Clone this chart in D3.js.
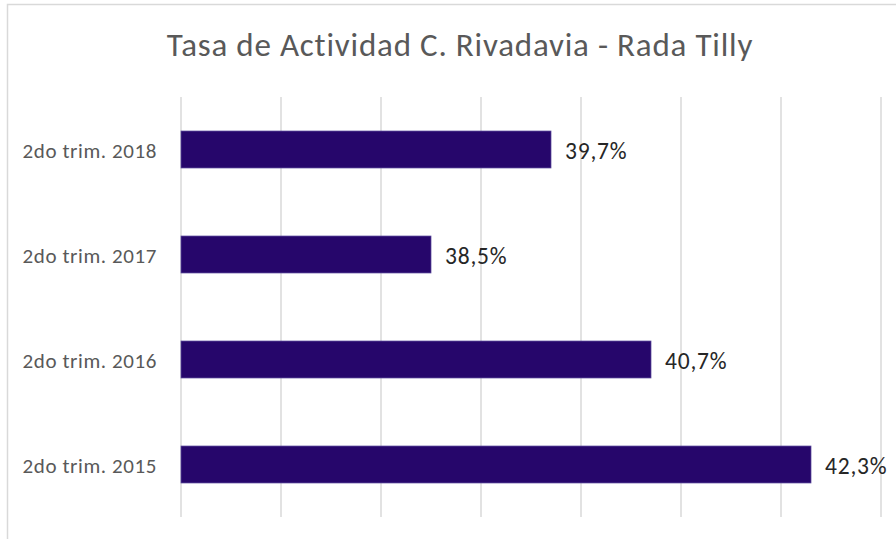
<!DOCTYPE html>
<html>
<head>
<meta charset="utf-8">
<script src="https://cdn.jsdelivr.net/npm/d3@7"></script>
<style>
  body { margin: 0; background: #fff; }
  svg { display: block; }
</style>
</head>
<body>
<div class="container"></div>
<script>
// datos
var categories = ["2do trim. 2018", "2do trim. 2017", "2do trim. 2016", "2do trim. 2015"];
var values = [39.7, 38.5, 40.7, 42.3];
var valueLabels = ["39,7%", "38,5%", "40,7%", "42,3%"];
var xTicks = [36, 37, 38, 39, 40, 41, 42, 43];
var title = "Tasa de Actividad C. Rivadavia - Rada Tilly";

var width = 896, height = 539;
var font = "Calibri, Carlito, Lato, sans-serif";

var svg = d3.select(".container")
    .append("svg")
    .attr("width", width)
    .attr("height", height);

// chart border (right and bottom edges fall outside the picture)
svg.append("rect")
    .attr("x", 7.5)
    .attr("y", 4.5)
    .attr("width", 920)
    .attr("height", 560)
    .style("fill", "#fff")
    .style("stroke", "#d9d9d9")
    .style("stroke-width", 1.5);

var x = d3.scaleLinear().domain([36, 43]).range([181, 881]);
var y = d3.scaleBand().domain(categories).range([97, 517])
    .paddingInner(0.648).paddingOuter(0.324);

// gridlines
svg.selectAll("line.grid")
    .data(xTicks)
    .enter().append("line")
    .attr("class", "grid")
    .attr("x1", function(d) { return x(d); })
    .attr("x2", function(d) { return x(d); })
    .attr("y1", 97)
    .attr("y2", 517)
    .style("stroke", "#d9d9d9")
    .style("stroke-width", 1.5);

// bars
svg.selectAll("rect.bar")
    .data(values)
    .enter().append("rect")
    .attr("class", "bar")
    .attr("x", x(36))
    .attr("y", function(d, i) { return y(categories[i]); })
    .attr("width", function(d) { return x(d) - x(36); })
    .attr("height", y.bandwidth())
    .style("fill", "#26066b")
    .style("stroke", "#5b4a9c")
    .style("stroke-width", 0.75);

// category labels
svg.selectAll("text.cat")
    .data(categories)
    .enter().append("text")
    .attr("class", "cat")
    .attr("x", 157)
    .attr("y", function(d) { return y(d) + y.bandwidth() / 2 + 8; })
    .attr("text-anchor", "end")
    .style("font-family", font)
    .style("font-size", "21px")
    .style("letter-spacing", "0.6px")
    .style("fill", "#595959")
    .text(function(d) { return d; });

// value labels
svg.selectAll("text.val")
    .data(values)
    .enter().append("text")
    .attr("class", "val")
    .attr("x", function(d) { return x(d) + 14; })
    .attr("y", function(d, i) { return y(categories[i]) + y.bandwidth() / 2 + 9; })
    .style("font-family", font)
    .style("font-size", "23.5px")
    .style("letter-spacing", "0.8px")
    .style("fill", "#262626")
    .text(function(d, i) { return valueLabels[i]; });

// title
svg.append("text")
    .attr("x", 460)
    .attr("y", 56)
    .attr("text-anchor", "middle")
    .style("font-family", font)
    .style("font-size", "33px")
    .style("letter-spacing", "0.8px")
    .style("fill", "#595959")
    .text(title);
</script>
</body>
</html>
